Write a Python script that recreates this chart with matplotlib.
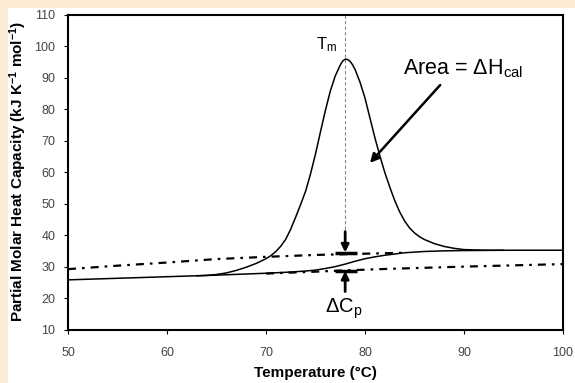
import matplotlib
matplotlib.use("Agg")
import matplotlib.pyplot as plt
from matplotlib.patches import Rectangle

plt.rcParams['font.family'] = ['Liberation Sans', 'DejaVu Sans']
plt.rcParams['mathtext.fontset'] = 'custom'
plt.rcParams['mathtext.rm'] = 'Liberation Sans'
plt.rcParams['mathtext.it'] = 'Liberation Sans'
plt.rcParams['mathtext.bf'] = 'Liberation Sans:bold'

# ---- data ----
# transition peak (total Cp)
peak_T = [63, 64, 65, 66, 67, 68, 69, 70, 70.5, 71, 71.5, 72, 72.5, 73, 73.5, 74,
          74.5, 75, 75.5, 76, 76.5, 77, 77.5, 77.75, 78, 78.25, 78.5, 78.75, 79,
          79.5, 80, 80.5, 81, 81.5, 82, 82.5, 83, 83.5, 84, 84.5, 85, 85.5, 86,
          87, 88, 89, 90, 92, 94]
peak_Cp = [27.2, 27.3, 27.6, 28.1, 28.9, 29.9, 31.1, 32.6, 33.6, 34.9, 36.6, 38.8,
           42.0, 45.8, 49.8, 54.0, 59.5, 65.8, 72.8, 79.6, 85.8, 90.6, 94.0, 95.3,
           95.9, 95.8, 95.2, 94.1, 92.6, 88.6, 83.6, 77.3, 71.0, 65.3, 60.0, 55.4,
           51.1, 47.5, 44.6, 42.4, 40.8, 39.6, 38.7, 37.4, 36.5, 35.9, 35.5, 35.3,
           35.3]

# sigmoidal progress baseline
base_T = [50, 55, 60, 65, 70, 72, 74, 75, 76, 77, 78, 79, 80, 81, 82, 83, 84,
          85, 86, 88, 90, 95, 100]
base_Cp = [25.9, 26.4, 26.9, 27.4, 28.0, 28.3, 28.7, 29.0, 29.5, 30.1, 30.9,
           31.8, 32.6, 33.2, 33.7, 34.1, 34.5, 34.7, 34.9, 35.1, 35.2, 35.3, 35.3]

# extrapolated native-state baseline (upper dash-dot)
native_T = [50, 55, 60, 65, 70, 75, 80, 84]
native_Cp = [29.3, 30.4, 31.4, 32.5, 33.2, 33.8, 34.2, 34.5]

# extrapolated denatured-state baseline (lower dash-dot)
denat_T = [70, 75, 78, 82, 90, 100]
denat_Cp = [27.9, 28.5, 28.9, 29.35, 30.1, 30.9]

Tm = 78
x_ticks = [50, 60, 70, 80, 90, 100]
y_ticks = [10, 20, 30, 40, 50, 60, 70, 80, 90, 100, 110]

# ---- figure ----
fig = plt.figure(figsize=(5.75, 3.83), dpi=100)
fig.patch.set_facecolor('white')
ax = fig.add_axes([0.1183, 0.1384, 0.8607, 0.8232])

dashdot = (0, (3.6, 2.7, 1.2, 2.7))
ax.plot(base_T, base_Cp, color='black', lw=1.1)
ax.plot(peak_T, peak_Cp, color='black', lw=1.1)
ax.plot(native_T, native_Cp, color='black', lw=1.6, ls=dashdot)
ax.plot(denat_T, denat_Cp, color='black', lw=1.6, ls=dashdot)

# Tm vertical dashed line
ax.plot([Tm, Tm], [110, 41], color='#888888', lw=0.8, ls=(0, (3, 2)))

# delta Cp arrows and bars
ax.annotate('', xy=(Tm, 34.6), xytext=(Tm, 41.2),
            arrowprops=dict(arrowstyle='-|>', color='black', lw=2, mutation_scale=11,
                            shrinkA=0, shrinkB=0))
ax.plot([77.0, 79.2], [34.3, 34.3], color='black', lw=2.5, solid_capstyle='butt')
ax.annotate('', xy=(Tm, 28.7), xytext=(Tm, 22.2),
            arrowprops=dict(arrowstyle='-|>', color='black', lw=2, mutation_scale=11,
                            shrinkA=0, shrinkB=0))
ax.plot([77.0, 79.2], [28.8, 28.8], color='black', lw=2.5, solid_capstyle='butt')

# area arrow
ax.annotate('', xy=(80.5, 63.0), xytext=(87.6, 87.7),
            arrowprops=dict(arrowstyle='-|>', color='black', lw=1.8, mutation_scale=13,
                            shrinkA=0, shrinkB=0))

ax.text(76.1, 100.5, 'T$_{\\rm m}$', fontsize=12, ha='center', va='center')
ax.text(83.8, 91.2, 'Area = \u0394H$_{\\rm cal}$', fontsize=15.5, ha='left', va='baseline')
ax.text(77.9, 16.8, '\u0394C$_{\\rm p}$', fontsize=14.5, ha='center', va='center')

ax.set_xlim(50, 100)
ax.set_ylim(10, 110)
ax.set_xticks(x_ticks)
ax.set_yticks(y_ticks)
ax.tick_params(direction='out', length=3, width=0.8, labelsize=9, labelcolor='#444444')
ax.tick_params(axis='y', pad=6)
ax.tick_params(axis='x', pad=9)
for s in ax.spines.values():
    s.set_linewidth(1.5)

ax.set_xlabel('Temperature (\u00b0C)', fontsize=11, fontweight='bold')
ax.xaxis.set_label_coords(0.5, -0.113)
fig.text(18.5 / 575, 1 - 171 / 383,
         'Partial Molar Heat Capacity (kJ K$^{\\mathbf{-1}}$ mol$^{\\mathbf{-1}}$)',
         fontsize=11, fontweight='bold', rotation=90, ha='center', va='center')

# peach frame strips
peach = '#FCEBD5'
fig.patches.append(Rectangle((0, 0), 8 / 575, 1, transform=fig.transFigure,
                             facecolor=peach, edgecolor='none', zorder=10))
fig.patches.append(Rectangle((0, 1 - 8 / 383), 1, 8 / 383, transform=fig.transFigure,
                             facecolor=peach, edgecolor='none', zorder=10))

fig.savefig('out.png', dpi=100, facecolor=fig.get_facecolor())
